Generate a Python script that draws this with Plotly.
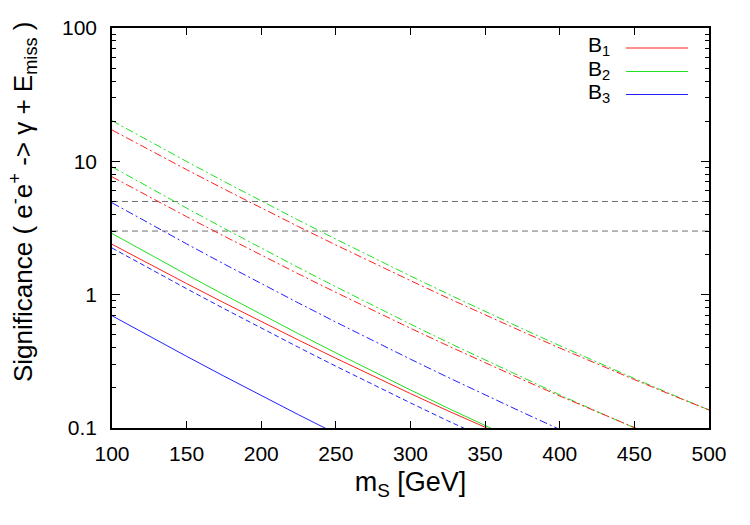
import plotly.graph_objects as go

# x values (GeV)
mass = [100, 125, 150, 175, 200, 225, 250, 275, 300, 325, 350, 375, 400, 425, 450, 475, 500]

# B1 (red)
b1_upper = [17.18, 12.16, 8.66, 6.20, 4.47, 3.236, 2.358, 1.728, 1.274, 0.944, 0.704, 0.528, 0.398, 0.302, 0.2305, 0.1768, 0.1365]
b1_mid = [7.656, 5.41, 3.846, 2.750, 1.977, 1.430, 1.040, 0.7606, 0.5598, 0.4142, 0.3083, 0.2308, 0.1738, 0.1316, 0.1002, 0.0768, 0.0592]
b1_low = [2.388, 1.696, 1.211, 0.8692, 0.6281, 0.4562, 0.3334, 0.2449, 0.1811, 0.1346, 0.1007, 0.0757, 0.0573, 0.0432, 0.0326, 0.0247, 0.0187]
# B2 (green)
b2_upper = [20.18, 14.15, 9.97, 7.07, 5.04, 3.615, 2.608, 1.892, 1.380, 1.013, 0.7475, 0.555, 0.4146, 0.3113, 0.2350, 0.1786, 0.1365]
b2_mid = [9.10, 6.35, 4.457, 3.146, 2.234, 1.595, 1.146, 0.827, 0.601, 0.439, 0.323, 0.2386, 0.1774, 0.1327, 0.0998, 0.0755, 0.0574]
b2_low = [2.877, 2.012, 1.414, 1.000, 0.7112, 0.5085, 0.3660, 0.2649, 0.1928, 0.1411, 0.1038, 0.0769, 0.0573, 0.0429, 0.0323, 0.0245, 0.0187]
# B3 (blue)
b3_upper = [4.887, 3.418, 2.403, 1.700, 1.209, 0.8653, 0.6226, 0.4507, 0.3281, 0.2402, 0.1769, 0.1311, 0.0976, 0.0731, 0.0551, 0.0418, 0.0318]
b3_mid = [2.239, 1.570, 1.108, 0.786, 0.561, 0.4027, 0.2907, 0.2111, 0.1542, 0.1132, 0.0837, 0.0621, 0.0465, 0.0349, 0.0264, 0.0201, 0.0153]
b3_low = [0.695, 0.488, 0.3447, 0.2449, 0.1750, 0.1257, 0.0909, 0.0661, 0.0483, 0.0355, 0.0263, 0.0195, 0.0146, 0.0110, 0.00833, 0.00634, 0.00485]

thresholds = [5, 3]
x_ticks = [100, 150, 200, 250, 300, 350, 400, 450, 500]
y_ticks = [0.1, 1, 10, 100]
y_ticktext = ["0.1", "1", "10", "100"]
legend_names = ["B<sub>1</sub>", "B<sub>2</sub>", "B<sub>3</sub>"]
x_title = "m<sub>S</sub> [GeV]"
y_title = "Significance ( e<sup>-</sup>e<sup>+</sup> -> γ + E<sub>miss</sub> )"

RED, GREEN, BLUE = "#ff2020", "#20e020", "#2020ff"
DASHDOT = "8px,3px,2px,3px"
DASH = "5px,3px"

fig = go.Figure()

def add(y, color, dash):
    fig.add_trace(go.Scatter(x=mass, y=y, mode="lines", showlegend=False,
                             line=dict(color=color, width=1, dash=dash), hoverinfo="skip"))

for t in thresholds:
    fig.add_trace(go.Scatter(x=[x_ticks[0], x_ticks[-1]], y=[t, t], mode="lines", showlegend=False,
                             line=dict(color="#707070", width=1, dash="6px,4px"), hoverinfo="skip"))

add(b2_upper, GREEN, DASHDOT)
add(b1_upper, RED, DASHDOT)
add(b2_mid, GREEN, DASHDOT)
add(b1_mid, RED, DASHDOT)
add(b3_upper, BLUE, DASHDOT)
add(b2_low, GREEN, "solid")
add(b1_low, RED, "solid")
add(b3_mid, BLUE, DASH)
add(b3_low, BLUE, "solid")

FONT = "Liberation Sans, Arial, sans-serif"
L, R, T, B = 112, 41, 28, 97
W, H = 750, 525
pw, ph = W - L - R, H - T - B

def px(x):
    return (x - L) / pw

def py(y):
    return (T + ph - y) / ph

for name, color, ypix in zip(legend_names, [RED, GREEN, BLUE], [48, 71.5, 94.5]):
    fig.add_shape(type="line", xref="paper", yref="paper", x0=px(626), x1=px(688),
                  y0=py(ypix), y1=py(ypix), line=dict(color=color, width=1))
    fig.add_annotation(xref="paper", yref="paper", x=px(612), y=py(ypix), text=name,
                       xanchor="right", yanchor="middle", showarrow=False, yshift=2,
                       font=dict(family=FONT, size=21, color="black"))

# y-axis title (placed like the reference, slightly above the plot centre)
fig.add_annotation(xref="paper", yref="paper", x=px(23), y=py(202), text=y_title,
                   textangle=-90, xanchor="center", yanchor="middle", showarrow=False,
                   font=dict(family=FONT, size=26, color="black"))

fig.update_layout(
    width=W, height=H,
    margin=dict(l=L, r=R, t=T, b=B),
    paper_bgcolor="white", plot_bgcolor="white",
    font=dict(family=FONT, size=21, color="black"),
    xaxis=dict(range=[100, 500], tickvals=x_ticks, ticks="inside", ticklen=7, tickwidth=1,
               tickcolor="black", showline=True, linecolor="black", linewidth=1.5, mirror="ticks",
               showgrid=False, zeroline=False, tickfont=dict(size=21), ticklabelstandoff=6,
               title=dict(text=x_title, font=dict(size=27), standoff=8)),
    yaxis=dict(type="log", range=[-1, 2], tickvals=y_ticks, ticktext=y_ticktext, ticks="inside",
               ticklen=8, tickwidth=1, tickcolor="black", showline=True, linecolor="black",
               linewidth=1.5, mirror="ticks", showgrid=False, zeroline=False, tickfont=dict(size=21),
               ticklabelstandoff=9,
               minor=dict(tickmode="array",
                          tickvals=[v * d for d in [0.1, 1, 10] for v in range(2, 10)],
                          ticks="inside", ticklen=4, tickcolor="black", showgrid=False)),
)

fig.write_html("out.html")
